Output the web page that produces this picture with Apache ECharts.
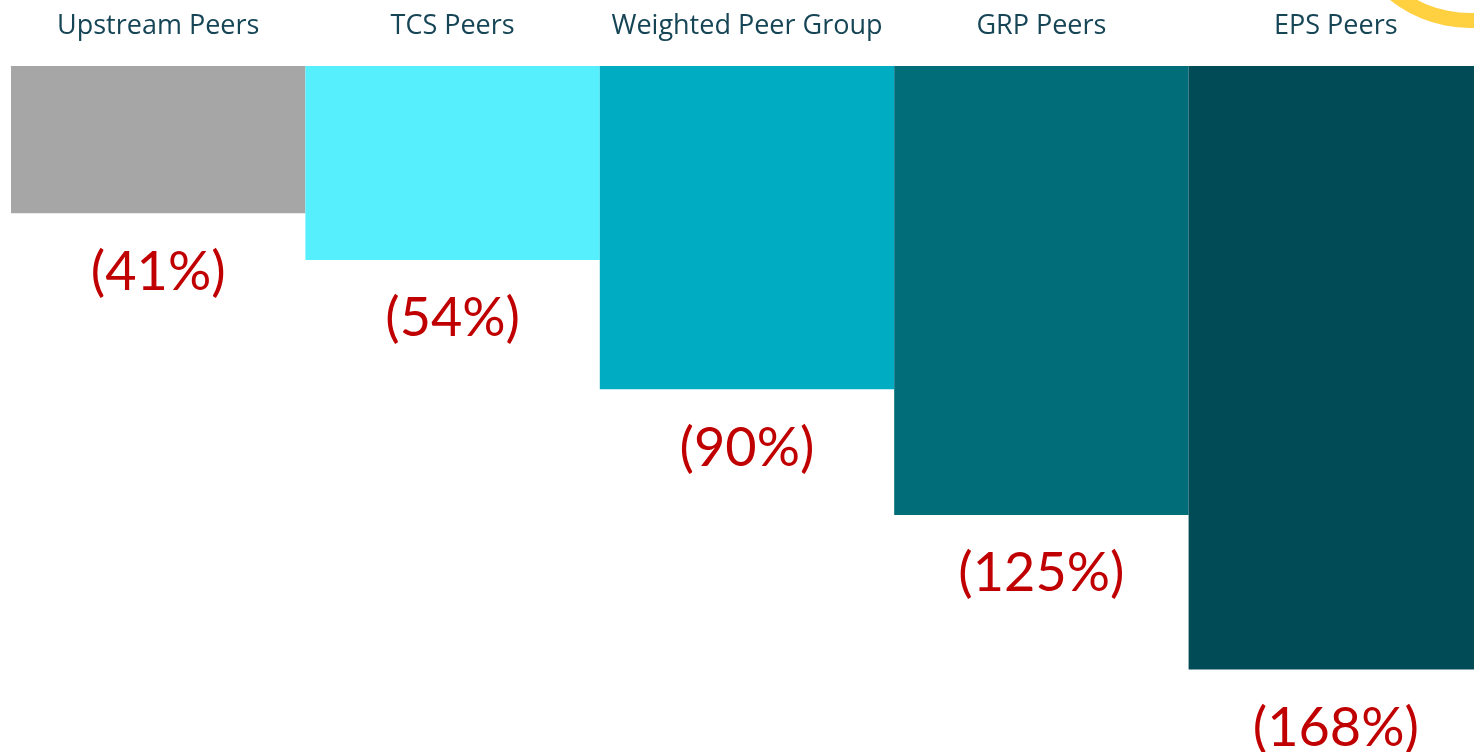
<!DOCTYPE html>
<html>
<head>
<meta charset="utf-8">
<script src="https://cdn.jsdelivr.net/npm/echarts@6/dist/echarts.min.js"></script>
<style>
html, body { margin: 0; padding: 0; background: #fff; }
#main { width: 1474px; height: 752px; }
</style>
</head>
<body>
<div id="main"></div>
<script>
var categories = ['Upstream Peers', 'TCS Peers', 'Weighted Peer Group', 'GRP Peers', 'EPS Peers'];
var values = [-41, -54, -90, -125, -168];
var colors = ['#A6A6A6', '#55EFFE', '#00ACC1', '#006D79', '#004B55'];

var myChart = echarts.init(document.getElementById('main'));

var data = [];
for (var i = 0; i < values.length; i++) {
	data.push({ value: values[i], itemStyle: { color: colors[i] } });
}

var option = {
	animation: false,
	grid: { left: 11, right: -9, top: 66, bottom: 0, outerBoundsMode: 'none', containLabel: false },
	xAxis: {
		type: 'category',
		position: 'top',
		data: categories,
		axisLine: { lineStyle: { color: '#D9D9D9', width: 1 } },
		axisTick: { show: false },
		axisLabel: {
			interval: 0,
			margin: 26,
			fontFamily: 'Open Sans',
			fontSize: 27,
			color: '#164556'
		}
	},
	yAxis: {
		type: 'value',
		min: -191,
		max: 0,
		show: false,
		splitLine: { show: false }
	},
	series: [{
		type: 'bar',
		data: data,
		barWidth: '100%',
		label: {
			show: true,
			position: 'bottom',
			distance: 32,
			fontFamily: 'Lato',
			fontSize: 54,
			color: '#C00000',
			formatter: function (p) { return '(' + Math.abs(p.value) + '%)'; }
		}
	}],
	graphic: [{
		type: 'ring',
		shape: { cx: 1470, cy: -100, r: 128, r0: 113 },
		style: { fill: '#FFD040' },
		z: 10
	}]
};
myChart.setOption(option);
</script>
</body>
</html>
